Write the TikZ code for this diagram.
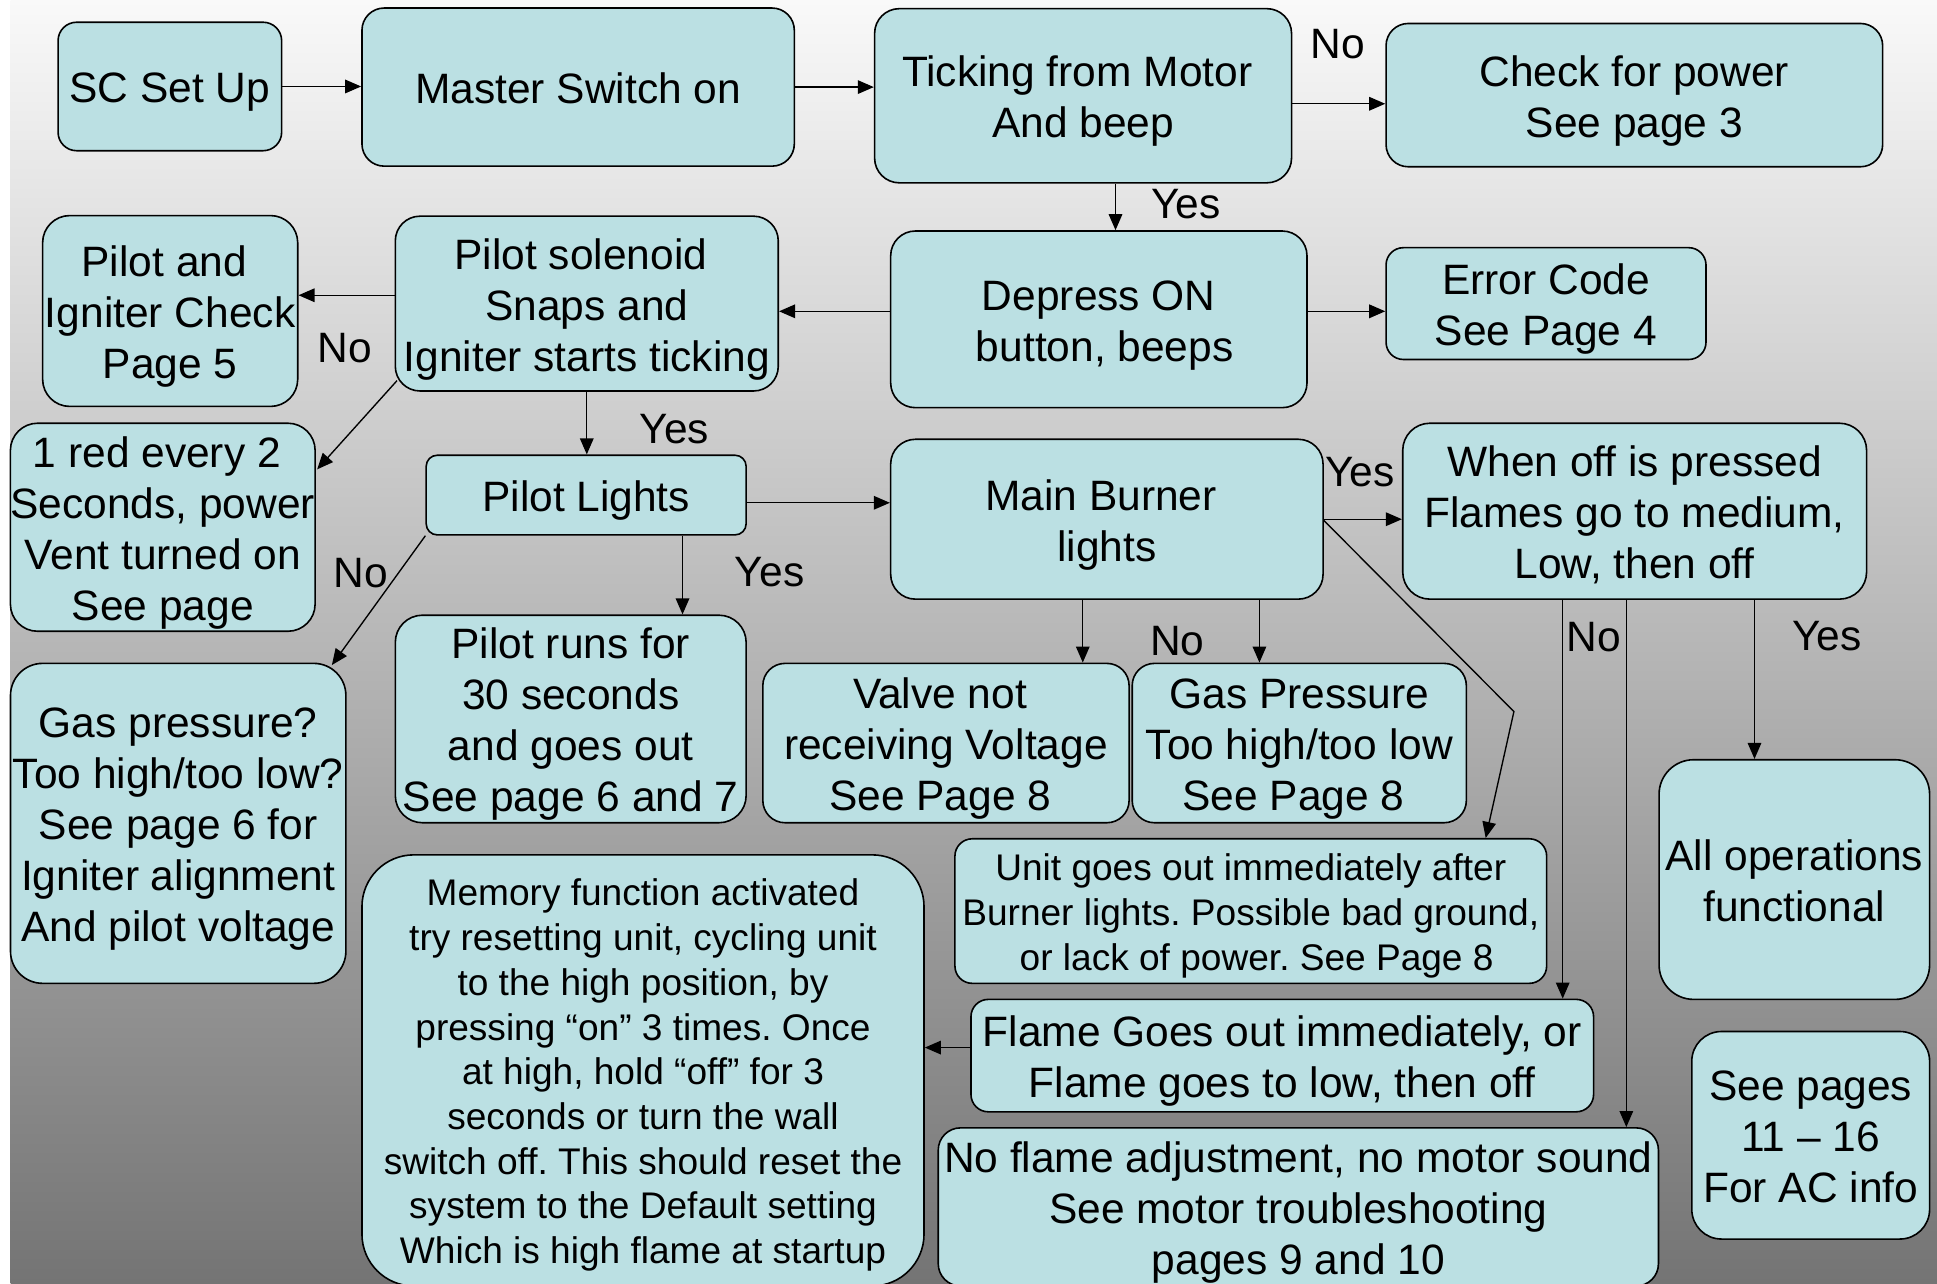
\documentclass[tikz,border=0pt]{standalone}
\usepackage{fontspec}
\setmainfont{Liberation Sans}
\usetikzlibrary{arrows.meta,calc}
\definecolor{boxfill}{HTML}{BBE0E3}
\definecolor{bgtop}{HTML}{F9F9F9}
\definecolor{bgbot}{HTML}{747474}
\newcommand\bigtxt{\fontsize{34.4pt}{41.3pt}\selectfont\frenchspacing}
\newcommand\smalltxt{\fontsize{30pt}{36.2pt}\selectfont\frenchspacing}
\newcommand\tsp{\hspace*{9.5pt}}
\newcommand\ms{\rule[-0.212em]{0pt}{1.2em}}
\begin{document}
\begin{tikzpicture}[x=1pt,y=-1pt,
  box/.style={draw=black, line width=1.3pt, fill=boxfill, align=center, inner sep=0pt, font=\bigtxt},
  lbl/.style={inner sep=0pt, font=\bigtxt},
  arr/.style={line width=1.1pt, -{Triangle[length=13pt,width=11pt]}}]
\useasboundingbox (0,0) rectangle (1568,1038.6);
\fill[white] (0,0) rectangle (1568,1038.6);
\shade[top color=bgtop,bottom color=bgbot] (8.7,0) rectangle (1568,1038.6);

% boxes
\node[box, minimum width=181pt, minimum height=104pt, rounded corners=15pt] (sc) at (137.5,70) {\ms SC Set Up\ms};
\node[box, minimum width=350pt, minimum height=128pt, rounded corners=18pt] (master) at (468,70.5) {\ms Master Switch on\ms};
\node[box, minimum width=337.5pt, minimum height=141pt, rounded corners=20pt] (tick) at (876.75,77.5) {\ms Ticking from Motor\tsp\\And beep\ms};
\node[box, minimum width=402pt, minimum height=116pt, rounded corners=18pt] (power) at (1323,77) {\ms Check for power\\See page 3\ms};
\node[box, minimum width=206.5pt, minimum height=154.5pt, rounded corners=22pt] (pic) at (137.75,251.75) {\ms Pilot and\tsp\\Igniter Check\\Page 5\ms};
\node[box, minimum width=310pt, minimum height=141.5pt, rounded corners=20pt] (sol) at (475,245.75) {\ms Pilot solenoid\tsp\\Snaps and\tsp\\Igniter starts ticking\ms};
\node[box, minimum width=337pt, minimum height=143pt, rounded corners=20pt] (dep) at (889.5,258.5) {\ms Depress ON\\\tsp button, beeps\ms};
\node[box, minimum width=259pt, minimum height=90.5pt, rounded corners=14pt] (err) at (1251.5,245.75) {\ms Error Code\\See Page 4\ms};
\node[box, minimum width=246.5pt, minimum height=168.4pt, rounded corners=22pt] (red) at (131.75,426.8) {\ms 1 red every 2\tsp\\Seconds, power\\Vent turned on\\See page\ms};
\node[box, minimum width=259pt, minimum height=64.5pt, rounded corners=9pt] (plights) at (474.5,400.75) {\ms Pilot Lights\ms};
\node[box, minimum width=350pt, minimum height=129.4pt, rounded corners=20pt] (burner) at (896,420.3) {\ms Main Burner\tsp\\lights\ms};
\node[box, minimum width=375.5pt, minimum height=142.4pt, rounded corners=22pt] (off) at (1323.25,413.8) {\ms When off is pressed\\Flames go to medium,\\Low, then off\ms};
\node[box, minimum width=271.5pt, minimum height=259pt, rounded corners=26pt] (gasq) at (144.25,666.5) {\ms Gas pressure?\\Too high/too low?\\See page 6 for\\Igniter alignment\\And pilot voltage\ms};
\node[box, minimum width=284pt, minimum height=168pt, rounded corners=22pt] (runs) at (462,582) {\ms Pilot runs for\\30 seconds\hspace*{12pt}\\and goes out\\See page 6 and 7\ms};
\node[box, minimum width=296.5pt, minimum height=129pt, rounded corners=18pt] (valve) at (765.75,601.5) {\ms Valve not\tsp\\receiving Voltage\\See Page 8\tsp\ms};
\node[box, minimum width=270.5pt, minimum height=129pt, rounded corners=18pt] (gasp) at (1051.75,601.5) {\ms Gas Pressure\\Too high/too low\\See Page 8\tsp\ms};
\node[box, minimum width=219pt, minimum height=194pt, rounded corners=28pt] (allop) at (1452.5,712) {\ms All operations\\functional\ms};
\node[box, minimum width=479pt, minimum height=117pt, rounded corners=14pt, font=\smalltxt] (unit) at (1012.5,737.5) {\ms Unit goes out immediately after\\Burner lights. Possible bad ground,\\\tsp or lack of power. See Page 8\ms};
\node[box, minimum width=455pt, minimum height=349pt, rounded corners=42pt, font=\smalltxt] (mem) at (520.5,866.5) {\ms Memory function activated\\try resetting unit, cycling unit\\to the high position, by\\pressing “on” 3 times. Once\\at high, hold “off” for 3\\seconds or turn the wall\\switch off. This should reset the\\system to the Default setting\\Which is high flame at startup\ms};
\node[box, minimum width=504pt, minimum height=91pt, rounded corners=14pt] (flame) at (1038,854.5) {\ms Flame Goes out immediately, or\\Flame goes to low, then off\ms};
\node[box, minimum width=583pt, minimum height=128pt, rounded corners=18pt] (noflame) at (1051,977) {\ms No flame adjustment, no motor sound\\See motor troubleshooting\tsp\\pages 9 and 10\ms};
\node[box, minimum width=192.5pt, minimum height=168pt, rounded corners=24pt] (seep) at (1465.75,919) {\ms See pages\\11 – 16\\For AC info\ms};

% labels
\node[lbl] (l1) at (1083,36) {No};
\node[lbl] (l2) at (960,165) {Yes};
\node[lbl] (l3) at (279,282) {No};
\node[lbl] (l4) at (546,347) {Yes};
\node[lbl] (l5) at (292,464) {No};
\node[lbl] (l6) at (623,463) {Yes};
\node[lbl] (l7) at (953,519) {No};
\node[lbl] (l8) at (1101,382) {Yes};
\node[lbl] (l9) at (1290,515.5) {No};
\node[lbl] (l10) at (1479,515) {Yes};

% connectors
\coordinate (bend) at (1225.5,576);
\draw[arr] (sc.east) -- (sc.east -| master.west);
\draw[arr] (master.east) -- (master.east -| tick.west);
\draw[arr] ($(tick.east)+(0,6.5)$) -- ($(power.west)+(0,7)$);
\draw[arr] ($(tick.south)+(26.25,0)$) -- ($(dep.north)+(13.5,0)$);
\draw[arr] ($(dep.west)+(0,-6.5)$) -- ($(sol.east)+(0,6.25)$);
\draw[arr] ($(dep.east)+(0,-6.5)$) -- ($(err.west)+(0,6.25)$);
\draw[arr] ($(sol.west)+(0,-6.75)$) -- ($(pic.east)+(0,-12.75)$);
\draw[arr] ($(sol.south west)+(2,-9)$) -- ($(red.north east)+(1,38)$);
\draw[arr] (sol.south) -- (sol.south |- plights.north);
\draw[arr] (plights.south west) -- ($(gasq.north east)+(-12,2)$);
\draw[arr] ($(plights.south)+(78,0)$) -- ($(runs.north)+(90.5,0)$);
\draw[arr] ($(plights.east)+(0,6.25)$) -- ($(burner.west)+(0,-13.3)$);
\draw[arr] ($(burner.south)+(-19.5,0)$) -- ($(valve.north)+(110.75,0)$);
\draw[arr] ($(burner.south)+(123.5,0)$) -- ($(gasp.north)+(-32.25,0)$);
\draw[arr] (burner.east) -- ($(off.west)+(0,6.5)$);
\draw[arr] ($(burner.east)+(0,1)$) -- (bend) -- ($(unit.north east)+(-50,0)$);
\draw[arr] ($(off.south)+(-58.25,0)$) -- ($(flame.north)+(227,0)$);
\draw[arr] ($(off.south)+(-6.75,0)$) -- ($(noflame.north)+(265.5,0)$);
\draw[arr] ($(off.south)+(97,0)$) -- ($(allop.north)+(-32.25,0)$);
\draw[arr] ($(flame.west)+(0,-6.5)$) -- ($(mem.east)+(0,-18.5)$);
\end{tikzpicture}
\end{document}
